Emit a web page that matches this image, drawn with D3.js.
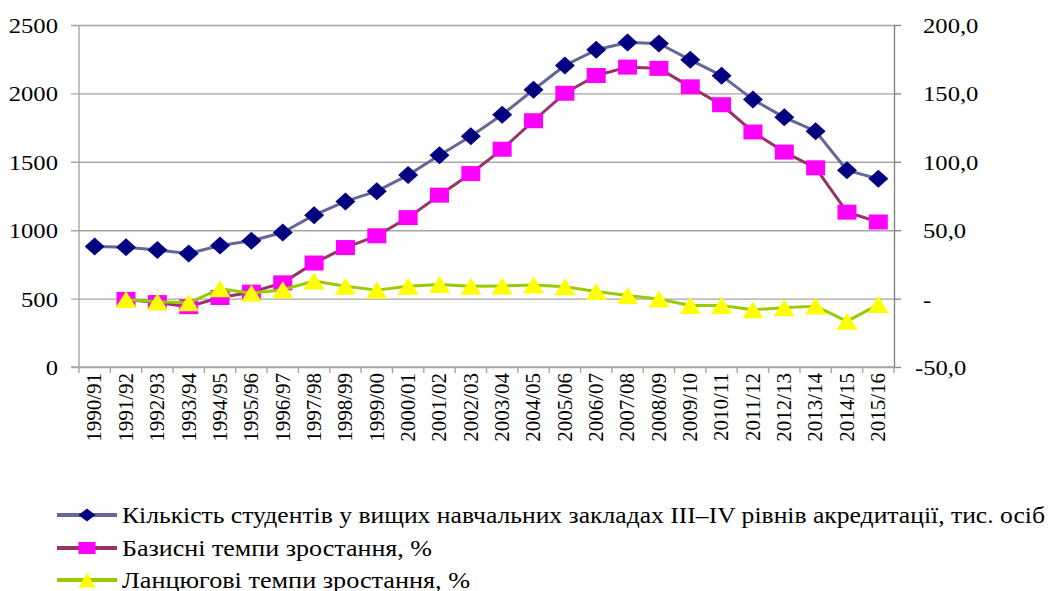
<!DOCTYPE html>
<html>
<head>
<meta charset="utf-8">
<script src="https://cdn.jsdelivr.net/npm/d3@7"></script>
<style>
  body { margin: 0; background: #fff; }
</style>
</head>
<body>
<svg width="1050" height="591"></svg>
<script>
// academic years
var categories = ["1990/91","1991/92","1992/93","1993/94","1994/95","1995/96","1996/97","1997/98",
  "1998/99","1999/00","2000/01","2001/02","2002/03","2003/04","2004/05","2005/06","2006/07",
  "2007/08","2008/09","2009/10","2010/11","2011/12","2012/13","2013/14","2014/15","2015/16"];

// students, thousands (left axis)
var students = [881.3, 876.2, 855.9, 829.2, 888.5, 922.8, 982.9, 1110.0, 1210.3, 1285.4, 1402.9,
  1548.0, 1686.9, 1843.8, 2026.7, 2203.8, 2318.6, 2372.5, 2364.5, 2245.2, 2129.8, 1954.8,
  1824.9, 1723.7, 1438.0, 1375.2];

// base growth, % (right axis)
var baseGrowth = [null, -0.6, -2.9, -5.9, 0.8, 4.7, 11.5, 26.0, 37.3, 45.9, 59.2, 75.6, 91.4,
  109.2, 130.0, 150.1, 163.1, 169.2, 168.3, 154.8, 141.7, 121.8, 107.1, 95.6, 63.2, 56.0];

// chain growth, % (right axis)
var chainGrowth = [null, -0.6, -2.3, -3.1, 7.2, 3.9, 6.5, 12.9, 9.0, 6.2, 9.1, 10.3, 9.0, 9.3,
  9.9, 8.7, 5.2, 2.3, -0.3, -5.0, -5.1, -8.2, -6.6, -5.5, -16.6, -4.4];

var leftTicks = [0, 500, 1000, 1500, 2000, 2500];
var rightTicks = [-50, 0, 50, 100, 150, 200];
var rightTickLabels = ["-50,0", "-", "50,0", "100,0", "150,0", "200,0"];

var legendLabels = [
  "Кількість студентів у вищих навчальних закладах III–IV рівнів акредитації, тис. осіб",
  "Базисні темпи зростання, %",
  "Ланцюгові темпи зростання, %"
];

var svg = d3.select("svg");
var plotLeft = 79, plotRight = 894, plotTop = 25, plotBottom = 367;
var stretch = 1.12;
var font = "Liberation Serif";

var x = d3.scaleBand().domain(categories).range([plotLeft, plotRight]);
var yL = d3.scaleLinear().domain([0, 2500]).range([plotBottom, plotTop]);
var yR = d3.scaleLinear().domain([-50, 200]).range([plotBottom, plotTop]);

// gridlines + left labels
var leftAxis = svg.append("g")
    .attr("transform", "translate(71,0)")
    .call(d3.axisLeft(yL).tickValues(leftTicks).tickSize(-(plotRight - 71)).tickPadding(0)
      .tickFormat(d3.format("d")));
leftAxis.select(".domain").remove();
leftAxis.selectAll(".tick line").attr("stroke", "#a6a6a6").attr("stroke-width", 1.4);
leftAxis.selectAll(".tick text")
    .attr("x", null).attr("dy", null)
    .attr("text-anchor", "end")
    .attr("dominant-baseline", "central")
    .attr("font-family", font)
    .attr("font-size", 22)
    .attr("fill", "#000")
    .attr("transform", "translate(-13,0) scale(" + stretch + ",1)");

// left axis line
svg.append("line")
    .attr("x1", plotLeft).attr("x2", plotLeft)
    .attr("y1", yL(2500)).attr("y2", yL(0))
    .attr("stroke", "#a6a6a6").attr("stroke-width", 1.4);

// right axis
var rightAxis = svg.append("g")
    .attr("transform", "translate(" + plotRight + ",0)")
    .call(d3.axisRight(yR).tickValues(rightTicks).tickSize(7).tickSizeOuter(0)
      .tickFormat(function (d, i) { return rightTickLabels[i]; }));
rightAxis.select(".domain").attr("stroke", "#868686").attr("stroke-width", 1.4);
rightAxis.selectAll(".tick line").attr("stroke", "#868686").attr("stroke-width", 1.4);
rightAxis.selectAll(".tick text")
    .attr("x", null).attr("dy", null)
    .attr("text-anchor", "start")
    .attr("dominant-baseline", "central")
    .attr("font-family", font)
    .attr("font-size", 22)
    .attr("fill", "#000")
    .attr("transform", function (d) {
      return "translate(" + (d < 0 ? 21 : 29) + ",0) scale(" + stretch + ",1)";
    });

// bottom axis
svg.append("line")
    .attr("x1", 71).attr("x2", plotRight)
    .attr("y1", plotBottom).attr("y2", plotBottom)
    .attr("stroke", "#a6a6a6").attr("stroke-width", 1.4);

var bounds = categories.map(function (c) { return x(c); }).concat([plotRight]);
svg.append("g").selectAll("line")
    .data(bounds)
    .enter().append("line")
    .attr("x1", function (d) { return d; })
    .attr("x2", function (d) { return d; })
    .attr("y1", plotBottom).attr("y2", plotBottom + 6)
    .attr("stroke", "#a6a6a6").attr("stroke-width", 1.4);

svg.append("g").selectAll("text")
    .data(categories)
    .enter().append("text")
    .attr("font-family", font)
    .attr("font-size", 21)
    .attr("text-anchor", "end")
    .attr("dominant-baseline", "central")
    .attr("transform", function (d) {
      return "translate(" + (x(d) + x.bandwidth() / 2) + "," + (plotBottom + 6) + ") scale(0.95,1) rotate(-90)";
    })
    .text(function (d) { return d; });

// markers
function diamond(w, h) {
  return "M0," + (-h / 2) + "L" + (w / 2) + ",0L0," + (h / 2) + "L" + (-w / 2) + ",0Z";
}
function square(w, h) {
  return "M" + (-w / 2) + "," + (-h / 2) + "h" + w + "v" + h + "h" + (-w) + "Z";
}
function triangle(w, h) {
  return "M0," + (-h / 2) + "L" + (w / 2) + "," + (h / 2) + "L" + (-w / 2) + "," + (h / 2) + "Z";
}

var series = [
  {values: students, y: yL, line: "#666699", fill: "#000080", shape: diamond, w: 20, h: 18, lw: 3, lshape: [17, 13]},
  {values: baseGrowth, y: yR, line: "#993366", fill: "#ff00ff", shape: square, w: 19, h: 15, lw: 3, lshape: [17, 12]},
  {values: chainGrowth, y: yR, line: "#99cc00", fill: "#ffff00", shape: triangle, w: 21, h: 17, lw: 3, lshape: [17, 15]}
];

series.forEach(function (s) {
  var pts = categories.map(function (c, i) { return {c: c, v: s.values[i]}; })
      .filter(function (d) { return d.v !== null; });
  var line = d3.line()
      .x(function (d) { return x(d.c) + x.bandwidth() / 2; })
      .y(function (d) { return s.y(d.v); });
  var g = svg.append("g");
  g.append("path")
      .datum(pts)
      .attr("d", line)
      .attr("fill", "none")
      .attr("stroke", s.line)
      .attr("stroke-width", s.lw)
      .attr("stroke-linejoin", "round");
  g.selectAll(".mark")
      .data(pts)
      .enter().append("path")
      .attr("class", "mark")
      .attr("d", s.shape(s.w, s.h))
      .attr("fill", s.fill)
      .attr("transform", function (d) {
        return "translate(" + (x(d.c) + x.bandwidth() / 2) + "," + s.y(d.v) + ")";
      });
});

// legend
var legendY = [515, 548, 580];
var legendWidths = [923, 310, 348];
series.forEach(function (s, i) {
  var g = svg.append("g").attr("transform", "translate(0," + legendY[i] + ")");
  g.append("line")
      .attr("x1", 57).attr("x2", 117)
      .attr("stroke", s.line).attr("stroke-width", 4);
  g.append("path")
      .attr("d", s.shape(s.lshape[0], s.lshape[1]))
      .attr("fill", s.fill)
      .attr("transform", "translate(87,0)");
  g.append("text")
      .attr("x", 122)
      .attr("dominant-baseline", "central")
      .attr("font-family", font)
      .attr("font-size", 23)
      .attr("textLength", legendWidths[i])
      .attr("lengthAdjust", "spacingAndGlyphs")
      .text(legendLabels[i]);
});
</script>
</body>
</html>
